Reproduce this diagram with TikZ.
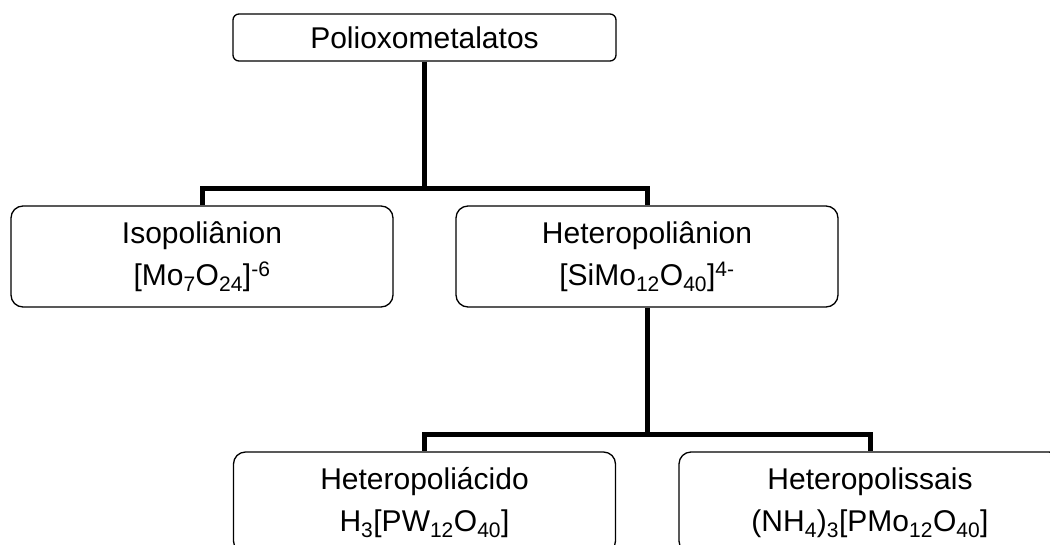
\documentclass[tikz,border=0pt]{standalone}
\usepackage{fontspec}
\setmainfont{Liberation Sans}
\usetikzlibrary{positioning}

\begin{document}
\begin{tikzpicture}[x=1pt, y=-1pt]
    \tikzstyle{classbox}=[draw, line width=1.3pt, rounded corners=12pt, minimum width=382pt, minimum height=101pt, align=center, inner sep=0pt, font=\fontsize{30}{42}\selectfont]
    \tikzstyle{titlebox}=[draw, line width=1.3pt, rounded corners=6pt, minimum width=383pt, minimum height=47pt, inner sep=0pt, font=\fontsize{30}{42}\selectfont]
    \tikzstyle{branch}=[line width=5pt]

    \useasboundingbox (0,0) rectangle (1050,544);

    % Top level
    \node[titlebox] (poli) at (424.5, 37.5) {Polioxometalatos};

    % Second level
    \node[classbox] (iso) at (202, 256.5) {Isopoliânion\\{}[Mo\textsubscript{7}O\textsubscript{24}]\textsuperscript{-6}};
    \node[classbox] (hetero) at (647, 256.5) {Heteropoliânion\\{}[SiMo\textsubscript{12}O\textsubscript{40}]\textsuperscript{4-}};

    % Third level
    \node[classbox] (acido) at (424.5, 502.5) {Heteropoliácido\\H\textsubscript{3}[PW\textsubscript{12}O\textsubscript{40}]};
    \node[classbox] (sais) at (870, 502.5) {Heteropolissais\\(NH\textsubscript{4})\textsubscript{3}[PMo\textsubscript{12}O\textsubscript{40}]};

    \coordinate (split_top) at (424.5, 188);
    \coordinate (split_het) at (647, 434);

    \draw[branch] (poli.south) -- (split_top) -| (iso.north);
    \draw[branch] (split_top) -| (hetero.north);
    \draw[branch] (hetero.south) -- (split_het) -| (acido.north);
    \draw[branch] (split_het) -| (sais.north);
\end{tikzpicture}
\end{document}
